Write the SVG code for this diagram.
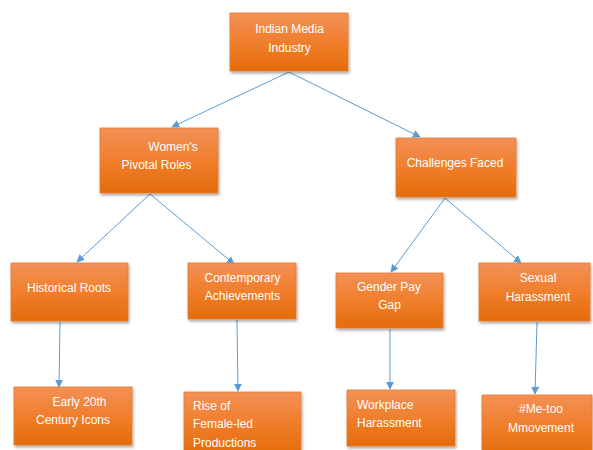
<svg xmlns="http://www.w3.org/2000/svg" width="593" height="450" viewBox="0 0 593 450">
<defs>
<linearGradient id="og" x1="0" y1="0" x2="0" y2="1">
<stop offset="0" stop-color="#F39157"/>
<stop offset="0.5" stop-color="#F07E2C"/>
<stop offset="1" stop-color="#E46C0A"/>
</linearGradient>
<filter id="sh" x="-10%" y="-10%" width="125%" height="130%">
<feDropShadow dx="1" dy="2" stdDeviation="1.5" flood-color="#000" flood-opacity="0.35"/>
</filter>
<marker id="ah" viewBox="0 0 10 10" refX="9" refY="5" markerWidth="8" markerHeight="8" orient="auto" markerUnits="userSpaceOnUse">
<path d="M0,0 L10,5 L0,10 z" fill="#5B9BD5"/>
</marker>
<style>
.box{fill:url(#og);stroke:#E97A2E;stroke-width:0.8;filter:url(#sh);}
.t{font-family:"Liberation Sans",Arial,sans-serif;font-size:12px;fill:#FFFFFF;text-anchor:middle;}
.tl{font-family:"Liberation Sans",Arial,sans-serif;font-size:12px;fill:#FFFFFF;text-anchor:start;}
.c{stroke:#5B9BD5;stroke-width:1;fill:none;marker-end:url(#ah);}
</style>
</defs>
<rect width="593" height="450" fill="#FFFFFF"/>
<g id="connectors">
<line class="c" x1="289" y1="72" x2="172" y2="127"/>
<line class="c" x1="289" y1="72" x2="420" y2="137"/>
<line class="c" x1="150" y1="194" x2="77" y2="262"/>
<line class="c" x1="150" y1="194" x2="234" y2="264"/>
<line class="c" x1="445" y1="198" x2="391" y2="272"/>
<line class="c" x1="445" y1="198" x2="521" y2="263"/>
<line class="c" x1="60" y1="322" x2="59" y2="387"/>
<line class="c" x1="237" y1="320" x2="238" y2="391"/>
<line class="c" x1="390" y1="329" x2="390" y2="389"/>
<line class="c" x1="537" y1="322" x2="535" y2="394"/>
</g>
<g id="n-indian-media">
<rect class="box" x="230" y="13" width="118" height="58"/>
<text class="t" x="289.5" y="33">Indian Media</text>
<text class="t" x="289.5" y="52">Industry</text>
</g>
<g id="n-womens-roles">
<rect class="box" x="100" y="128" width="118" height="65"/>
<text class="t" x="173" y="151">Women's</text>
<text class="t" x="156.5" y="169">Pivotal Roles</text>
</g>
<g id="n-challenges">
<rect class="box" x="396" y="138" width="120" height="59"/>
<text class="t" x="455" y="167">Challenges Faced</text>
</g>
<g id="n-historical">
<rect class="box" x="11" y="263" width="117" height="58"/>
<text class="t" x="69" y="292">Historical Roots</text>
</g>
<g id="n-contemporary">
<rect class="box" x="188" y="263" width="108" height="56"/>
<text class="t" x="242.5" y="282">Contemporary</text>
<text class="t" x="242.5" y="300">Achievements</text>
</g>
<g id="n-gender-pay">
<rect class="box" x="336" y="273" width="107" height="55"/>
<text class="t" x="389" y="291">Gender Pay</text>
<text class="t" x="389.5" y="309">Gap</text>
</g>
<g id="n-sexual-harassment">
<rect class="box" x="479" y="263" width="111" height="58"/>
<text class="t" x="538" y="282">Sexual</text>
<text class="t" x="538" y="301">Harassment</text>
</g>
<g id="n-early-icons">
<rect class="box" x="14" y="387" width="118" height="58"/>
<text class="t" x="79.5" y="406">Early 20th</text>
<text class="t" x="73" y="424">Century Icons</text>
</g>
<g id="n-female-led">
<rect class="box" x="184" y="392" width="117" height="62"/>
<text class="tl" x="193" y="410">Rise of</text>
<text class="tl" x="193" y="428">Female-led</text>
<text class="tl" x="193" y="447">Productions</text>
</g>
<g id="n-workplace">
<rect class="box" x="347" y="390" width="108" height="56"/>
<text class="tl" x="357" y="409">Workplace</text>
<text class="tl" x="357" y="427">Harassment</text>
</g>
<g id="n-metoo">
<rect class="box" x="482" y="395" width="110" height="60"/>
<text class="t" x="541" y="413">#Me-too</text>
<text class="t" x="541" y="432">Mmovement</text>
</g>
</svg>
